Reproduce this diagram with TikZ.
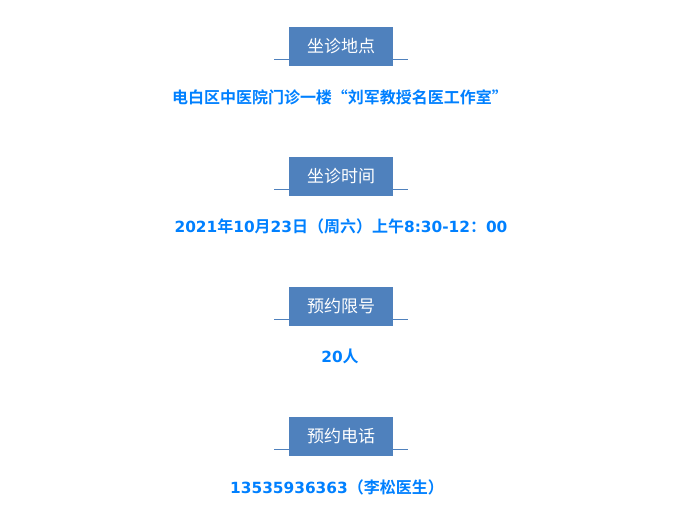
\documentclass[tikz,border=0pt]{standalone}
\usepackage{fontspec}
\setmainfont{Noto Sans CJK SC}
\newfontfamily\cjkbold{Noto Sans CJK SC Bold}
\newfontfamily\digfont{DejaVu Sans Bold}[Scale=0.96]
\newcommand\dg[1]{{\digfont #1}}
\definecolor{boxblue}{RGB}{79,129,189}
\definecolor{txtblue}{RGB}{0,128,255}
\tikzset{
  head/.style={fill=boxblue, text=white, minimum width=104*0.75pt, minimum height=39*0.75pt, inner sep=0pt, font=\fontsize{12.75}{15}\selectfont},
  rule/.style={draw=boxblue, line width=0.75pt},
  info/.style={text=txtblue, inner sep=0pt, font=\cjkbold\fontsize{12}{14}\selectfont}
}
\begin{document}
\begin{tikzpicture}[x=0.75pt,y=-0.75pt]
\useasboundingbox (0,0) rectangle (687,532);
\foreach \i/\t in {0/坐诊地点,1/坐诊时间,2/预约限号,3/预约电话}{
  \coordinate (l\i) at (274,59+130*\i);
  \coordinate (r\i) at (408,59+130*\i);
  \draw[rule] (l\i) -- (r\i);
  \node[head] (h\i) at (341,46.5+130*\i) {\t};
}
\node[info] (t0) at (340,97) {电白区中医院门诊一楼“刘军教授名医工作室”};
\node[info] (t1) at (341,226.5) {\dg{2021}年\dg{10}月\dg{23}日（周六）上午\dg{8:30-12}：\dg{00}};
\node[info] (t2) at (340,356.5) {\dg{20}人};
\node[info] (t3) at (337,487.5) {\dg{13535936363}（李松医生）};
\end{tikzpicture}
\end{document}
